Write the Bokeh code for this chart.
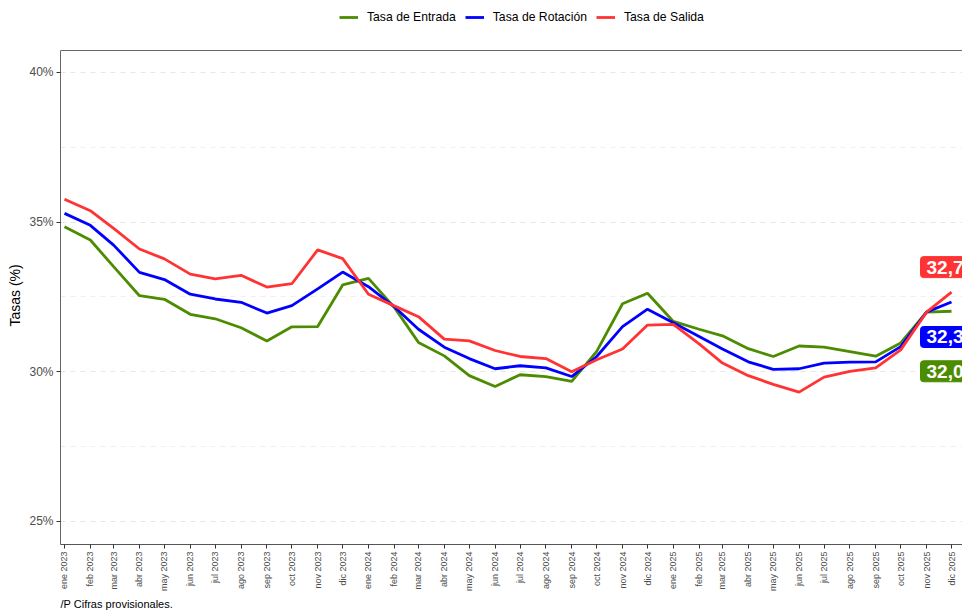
import math
import pandas as pd
from bokeh.plotting import figure
from bokeh.models import Range1d, FixedTicker, Legend, LegendItem, Label, Span, Title
from bokeh.embed import file_html
from bokeh.resources import INLINE

month_abbr = ["ene", "feb", "mar", "abr", "may", "jun", "jul", "ago", "sep", "oct", "nov", "dic"]
periods = pd.date_range("2023-01-01", "2025-12-01", freq="MS")
tick_labels = [f"{month_abbr[d.month - 1]} {d.year}" for d in periods]

entrada = [34.84, 34.40, 33.51, 32.54, 32.42, 31.92, 31.77, 31.47, 31.03, 31.50, 31.51, 32.90,
           33.12, 32.15, 30.98, 30.53, 29.87, 29.51, 29.90, 29.84, 29.68, 30.68, 32.27, 32.62,
           31.68, 31.42, 31.20, 30.77, 30.51, 30.86, 30.82, 30.67, 30.52, 30.96, 31.99, 32.02]
rotacion = [35.29, 34.89, 34.23, 33.32, 33.08, 32.59, 32.43, 32.32, 31.96, 32.21, 32.77, 33.33,
            32.84, 32.17, 31.42, 30.82, 30.44, 30.10, 30.20, 30.13, 29.84, 30.51, 31.51, 32.09,
            31.64, 31.18, 30.76, 30.33, 30.08, 30.10, 30.29, 30.32, 30.33, 30.84, 31.99, 32.33]
salida = [35.76, 35.38, 34.79, 34.10, 33.77, 33.26, 33.10, 33.22, 32.83, 32.94, 34.07, 33.78,
          32.59, 32.20, 31.84, 31.09, 31.03, 30.71, 30.51, 30.44, 30.00, 30.40, 30.76, 31.56,
          31.58, 30.93, 30.29, 29.87, 29.58, 29.32, 29.82, 30.01, 30.13, 30.73, 31.99, 32.66]

series_names = ["Tasa de Entrada", "Tasa de Rotación", "Tasa de Salida"]
series_colors = ["#4C8C00", "#0000FF", "#FF3333"]

y_ticks = [25, 30, 35, 40]
y_minor = [27.5, 32.5, 37.5]
y_tick_labels = ["25%", "30%", "35%", "40%"]

days = [int((d - periods[0]).days) for d in periods]

FONT = "Liberation Sans"

Y_LOW, Y_PANEL_TOP = 24.23, 40.73   # visible panel extent
p = figure(width=962, height=610, output_backend="svg", toolbar_location=None,
           x_range=Range1d(-4.8, 1078.2), y_range=Range1d(Y_LOW, 42.4),
           min_border_left=58, min_border_right=0, min_border_top=0, min_border_bottom=65)
p.outline_line_color = None
p.background_fill_color = "white"

renderers = []
for vals, col in zip([entrada, rotacion, salida], series_colors):
    r = p.line(days, vals, line_color=col, line_width=2.8)
    renderers.append(r)

# Grid
p.xgrid.grid_line_color = None
p.ygrid.ticker = FixedTicker(ticks=y_ticks, minor_ticks=y_minor)
p.ygrid.grid_line_color = "#e6e6e6"
p.ygrid.grid_line_dash = "5 5"
p.ygrid.minor_grid_line_color = "#eeeeee"
p.ygrid.minor_grid_line_dash = "5 5"

# Y axis
yax = p.yaxis[0]
yax.bounds = (Y_LOW, Y_PANEL_TOP)
yax.ticker = FixedTicker(ticks=y_ticks, minor_ticks=y_minor)
yax.major_label_overrides = {t: l for t, l in zip(y_ticks, y_tick_labels)}
yax.major_label_text_font = FONT
yax.major_label_text_font_size = "12px"
yax.major_label_text_color = "#4d4d4d"
yax.major_label_standoff = 3
yax.major_tick_out = 4
yax.major_tick_in = 0
yax.minor_tick_line_color = None
yax.major_tick_line_color = "#333333"
yax.axis_line_color = "#666666"

# Y title, centred on the visible panel
ytitle = Title(text="Tasas (%)", align="left", text_font=FONT, text_font_size="14px",
               text_font_style="normal", text_color="black", standoff=8, offset=218)
p.add_layout(ytitle, "left")

# X axis
xax = p.xaxis[0]
xax.ticker = FixedTicker(ticks=days)
xax.major_label_overrides = {d: l for d, l in zip(days, tick_labels)}
xax.major_label_orientation = math.pi / 2
xax.major_label_text_font = FONT
xax.major_label_text_font_size = "9px"
xax.major_label_text_color = "#4d4d4d"
xax.major_label_standoff = 3
xax.major_tick_out = 4
xax.major_tick_in = 0
xax.minor_tick_line_color = None
xax.major_tick_line_color = "#333333"
xax.axis_line_color = "#555555"

# top border of the panel
p.add_layout(Span(location=Y_PANEL_TOP, dimension="width", line_color="#666666", line_width=1))

# Legend at the top (screen units from the frame's bottom-left)
legend = Legend(items=[LegendItem(label=n, renderers=[r]) for n, r in zip(series_names, renderers)],
                orientation="horizontal", location=(279, 520))
legend.label_text_font = FONT
legend.label_text_font_size = "12.2px"
legend.label_text_color = "black"
legend.glyph_width = 19
legend.glyph_height = 14
legend.label_standoff = 9
legend.spacing = 9
legend.padding = 0
legend.margin = 0
legend.border_line_color = None
legend.background_fill_alpha = 0
p.add_layout(legend)

# End labels
end_offsets = [-60, -35, 25]
for vals, col, dy in zip([entrada, rotacion, salida], series_colors, end_offsets):
    txt = f"{vals[-1]:.1f}".replace(".", ",")
    lab = Label(x=days[-1], y=vals[-1], x_offset=-31, y_offset=dy, text=txt,
                text_align="left", text_baseline="middle",
                text_font=FONT, text_font_size="19px", text_font_style="bold",
                text_color="white", background_fill_color=col,
                border_line_color=col, padding=(6, 4), border_radius=3)
    p.add_layout(lab)

# Footnote
foot = Title(text="/P Cifras provisionales.", align="left", text_font=FONT,
             text_font_size="11px", text_font_style="normal", text_color="black",
             standoff=2, offset=0)
p.add_layout(foot, "below")

open("out.html", "w").write(file_html(p, INLINE))
